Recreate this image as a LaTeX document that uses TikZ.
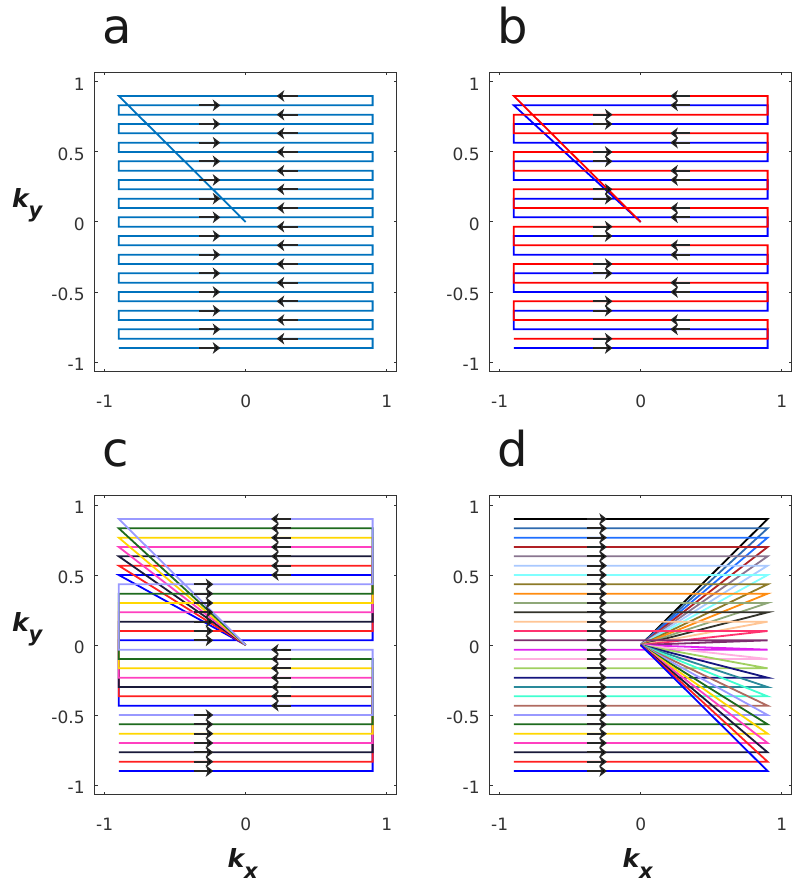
\documentclass[tikz,border=0pt]{standalone}
\usepackage{fontspec}
\setmainfont{DejaVu Sans}
\usetikzlibrary{arrows.meta}
\definecolor{mblue}{rgb}{0,0.447,0.741}
\definecolor{axgray}{HTML}{333333}
\definecolor{d0}{HTML}{000000}
\definecolor{d1}{HTML}{2F6AAF}
\definecolor{d2}{HTML}{1F6FFF}
\definecolor{d3}{HTML}{B02025}
\definecolor{d4}{HTML}{8A7590}
\definecolor{d5}{HTML}{A9C9FF}
\definecolor{d6}{HTML}{80FFFF}
\definecolor{d7}{HTML}{8C7A28}
\definecolor{d8}{HTML}{FF8C10}
\definecolor{d9}{HTML}{8FA878}
\definecolor{d10}{HTML}{33332A}
\definecolor{d11}{HTML}{FFC595}
\definecolor{d12}{HTML}{FF3370}
\definecolor{d13}{HTML}{7D2D6E}
\definecolor{d14}{HTML}{E020F0}
\definecolor{d15}{HTML}{FFB0E0}
\definecolor{d16}{HTML}{A0D060}
\definecolor{d17}{HTML}{15157F}
\definecolor{d18}{HTML}{2A8A9A}
\definecolor{d19}{HTML}{40FFD0}
\definecolor{d20}{HTML}{B06A60}
\definecolor{d21}{HTML}{9999FF}
\definecolor{d22}{HTML}{1E6A1E}
\definecolor{d23}{HTML}{FFD700}
\definecolor{d24}{HTML}{FF40C0}
\definecolor{d25}{HTML}{1A1A3A}
\definecolor{d26}{HTML}{FF2020}
\definecolor{d27}{HTML}{0000FF}
\def\kstep{0.0666667}
\newcommand\myaxes[1]{%
  \draw[axline] (-1.07,-1.07) rectangle (1.07,1.07);
  \foreach \t in {-1,0,1}{
    \draw[axline] (\t,-1.07) -- ++(0pt,3pt);
    \draw[axline] (\t,1.07) -- ++(0pt,-3pt);
  }
  \foreach \t in {-1,-0.5,0,0.5,1}{
    \draw[axline] (-1.07,\t) -- ++(3pt,0pt);
    \draw[axline] (1.07,\t) -- ++(-3pt,0pt);
  }
  \foreach \t in {-1,0,1}{
    \node[ticklab,anchor=base] at (\t,-1.07) [yshift=-36pt] {\t};
  }
  \node[ticklab,anchor=east] at (-1.07,1) [xshift=-10pt,yshift=-2pt] {1};
  \node[ticklab,anchor=east] at (-1.07,0.5) [xshift=-10pt,yshift=-2pt] {0.5};
  \node[ticklab,anchor=east] at (-1.07,0) [xshift=-10pt,yshift=-2pt] {0};
  \node[ticklab,anchor=east] at (-1.07,-0.5) [xshift=-10pt,yshift=-2pt] {-0.5};
  \node[ticklab,anchor=east] at (-1.07,-1) [xshift=-10pt,yshift=-2pt] {-1};
  \node[letter,anchor=base west] at (-1.07,1.07) [xshift=7pt,yshift=29pt] {#1};
}
\newcommand\kylabel{\node[klab,anchor=base west] at (-1.07,0) [xshift=-83pt,yshift=14pt] {\fontsize{25}{25}\selectfont\bfseries\itshape k\raisebox{-10pt}{\fontsize{21}{21}\selectfont y}};}
\newcommand\kxlabel{\node[klab,anchor=base west] at (-0.13,-1.07) [yshift=-73pt] {\fontsize{25}{25}\selectfont\bfseries\itshape k\raisebox{-11pt}{\fontsize{21}{21}\selectfont x}};}
\begin{document}
\begin{tikzpicture}[x=1pt,y=-1pt,
  axline/.style={draw=axgray,line width=1pt},
  ticklab/.style={inner sep=0pt,text=axgray,font=\fontsize{17}{17}\selectfont},
  letter/.style={inner sep=0pt,text=black!90,font=\fontsize{48}{48}\selectfont},
  klab/.style={inner sep=0pt,text=black!90},
  traj/.style={line width=1.8pt,line join=miter},
  qarr/.style={line width=2.2pt,draw=black!85,-{Stealth[length=7.5pt,width=11.5pt,inset=2pt,fill=black]}}]
\fill[white] (0,0) rectangle (800,890);
\useasboundingbox (0,0) rectangle (800,890);

% ---------- panel a ----------
\begin{scope}[shift={(245.7,222)},x=141pt,y=140pt]
  \myaxes{a}
  \kylabel
  \draw[traj,mblue] (0,0) \foreach \k in {0,...,27}{ -- ({-0.9*(1-2*mod(\k,2))},{0.9-\k*\kstep}) -- ({0.9*(1-2*mod(\k,2))},{0.9-\k*\kstep}) };
  \foreach \k in {0,2,...,26}{\draw[qarr] (0.37,{0.9-\k*\kstep}) -- (0.22,{0.9-\k*\kstep});}
  \foreach \k in {1,3,...,27}{\draw[qarr] (-0.33,{0.9-\k*\kstep}) -- (-0.18,{0.9-\k*\kstep});}
\end{scope}

% ---------- panel b ----------
\begin{scope}[shift={(640.7,222)},x=141pt,y=140pt]
  \myaxes{b}
  \draw[traj,d27] (0,0) \foreach \j in {0,...,13}{ -- ({-0.9*(1-2*mod(\j,2))},{0.9-(2*\j+1)*\kstep}) -- ({0.9*(1-2*mod(\j,2))},{0.9-(2*\j+1)*\kstep}) };
  \draw[traj,red] (0,0) \foreach \j in {0,...,13}{ -- ({-0.9*(1-2*mod(\j,2))},{0.9-2*\j*\kstep}) -- ({0.9*(1-2*mod(\j,2))},{0.9-2*\j*\kstep}) };
  \foreach \k in {0,1,4,5,8,9,12,13,16,17,20,21,24,25}{\draw[qarr] (0.35,{0.9-\k*\kstep}) -- (0.21,{0.9-\k*\kstep});}
  \foreach \k in {2,3,6,7,10,11,14,15,18,19,22,23,26,27}{\draw[qarr] (-0.34,{0.9-\k*\kstep}) -- (-0.2,{0.9-\k*\kstep});}
\end{scope}

% ---------- panel c ----------
\begin{scope}[shift={(245.7,645)},x=141pt,y=140pt]
  \myaxes{c}
  \kylabel
  \kxlabel
  \foreach \s/\cc in {6/d27,5/d26,4/d25,3/d24,2/d23,1/d22,0/d21}{
    \draw[traj,\cc] (0,0) \foreach \g in {0,...,3}{ -- ({-0.9*(1-2*mod(\g,2))},{0.9-(\s+7*\g)*\kstep}) -- ({0.9*(1-2*mod(\g,2))},{0.9-(\s+7*\g)*\kstep}) };
  }
  \foreach \k in {0,...,6,14,15,...,20}{\draw[qarr] (0.32,{0.9-\k*\kstep}) -- (0.18,{0.9-\k*\kstep});}
  \foreach \k in {7,8,...,13,21,22,...,27}{\draw[qarr] (-0.37,{0.9-\k*\kstep}) -- (-0.23,{0.9-\k*\kstep});}
\end{scope}

% ---------- panel d ----------
\begin{scope}[shift={(640.7,645)},x=141pt,y=140pt]
  \myaxes{d}
  \kxlabel
  \foreach \k in {0,...,27}{
    \draw[traj,d\k] (0,0) -- (0.9,{0.9-\k*\kstep}) -- (-0.9,{0.9-\k*\kstep});
  }
  \foreach \k in {0,...,27}{\draw[qarr] (-0.38,{0.9-\k*\kstep}) -- (-0.24,{0.9-\k*\kstep});}
\end{scope}
\end{tikzpicture}
\end{document}
